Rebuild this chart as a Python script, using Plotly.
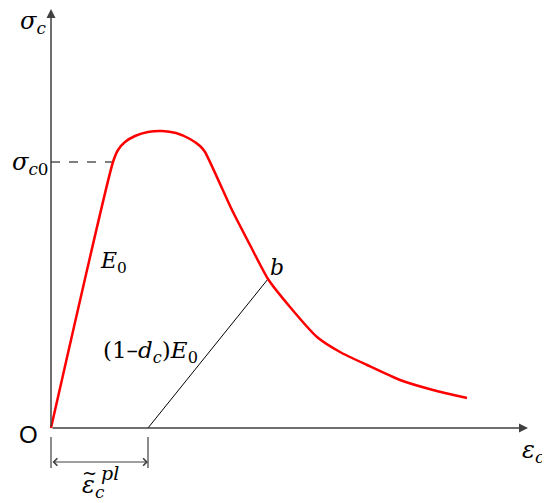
import plotly.graph_objects as go

# concrete compression stress-strain curve (arbitrary units)
strain = [0, 62, 67, 74, 84, 97, 111, 125, 139, 149, 154, 181, 199, 217, 239, 266, 289, 316, 349, 382, 416]
stress = [0, 266, 278, 286, 292, 296, 297, 295, 289, 282, 276, 218, 183, 149, 121, 91, 76, 63, 48, 38, 30]

# unloading path from point b back to the plastic strain
unload_strain = [97, 217]
unload_stress = [0, 149]

sigma_c0 = 266
eps_c0 = 62
eps_pl = 97

x_end = 477
y_end = 419

serif = "DejaVu Serif"
fig = go.Figure()

# dashed guide at sigma_c0
fig.add_trace(go.Scatter(
    x=[0, eps_c0], y=[sigma_c0, sigma_c0], mode="lines",
    line=dict(color="black", width=1, dash="dash"), showlegend=False, hoverinfo="skip"
))

# unloading line
fig.add_trace(go.Scatter(
    x=unload_strain, y=unload_stress, mode="lines",
    line=dict(color="black", width=1), showlegend=False, hoverinfo="skip"
))

# main curve
fig.add_trace(go.Scatter(
    x=strain, y=stress, mode="lines",
    line=dict(color="#ff0000", width=2.5, shape="spline", smoothing=0.6),
    showlegend=False, hoverinfo="skip"
))

# axes with arrows
fig.add_annotation(x=x_end, y=0, ax=0, ay=0, xref="x", yref="y", axref="x", ayref="y",
                   showarrow=True, arrowhead=2, arrowsize=1.2, arrowwidth=1.5,
                   arrowcolor="#404040", text="")
fig.add_annotation(x=0, y=y_end, ax=0, ay=0, xref="x", yref="y", axref="x", ayref="y",
                   showarrow=True, arrowhead=2, arrowsize=1.2, arrowwidth=1.5,
                   arrowcolor="#404040", text="")

# dimension for plastic strain
for xv in [0, eps_pl]:
    fig.add_shape(type="line", x0=xv, x1=xv, y0=-9, y1=-40,
                  line=dict(color="#404040", width=1.2))
fig.add_annotation(x=eps_pl, y=-34, ax=0, ay=-34, xref="x", yref="y", axref="x", ayref="y",
                   showarrow=True, arrowhead=4, arrowside="end+start", arrowsize=1.2,
                   arrowwidth=1.2, arrowcolor="#404040", text="")

labels = [
    (-18, 406, "<i>σ</i><sub><i>c</i></sub>", 24, serif),
    (-23, -6, "O", 24, "Liberation Sans"),
    (-21, 265, "<i>σ</i><sub><i>c</i>0</sub>", 24, serif),
    (62, 166, "<i>E</i><sub>0</sub>", 22, serif),
    (226, 161, "<i>b</i>", 22, serif),
    (99, 76, "(1–<i>d</i><sub><i>c</i></sub>)<i>E</i><sub>0</sub>", 23, serif),
    (482, -23, "<i>ε</i><sub><i>c</i></sub>", 24, serif),
    (42, -58, "<i>ε</i><sub><i>c</i></sub>", 24, serif),
    (38, -44, "~", 18, serif),
    (59, -45, "<i>pl</i>", 19, serif),
]
for lx, ly, txt, size, fam in labels:
    fig.add_annotation(x=lx, y=ly, text=txt, showarrow=False,
                       font=dict(family=fam, size=size, color="black"))

fig.update_layout(
    width=542, height=495,
    margin=dict(l=0, r=0, t=0, b=0),
    plot_bgcolor="white", paper_bgcolor="white",
    xaxis=dict(range=[-43, 499], visible=False),
    yaxis=dict(range=[-75, 420], visible=False),
)

fig.write_html("out.html")
